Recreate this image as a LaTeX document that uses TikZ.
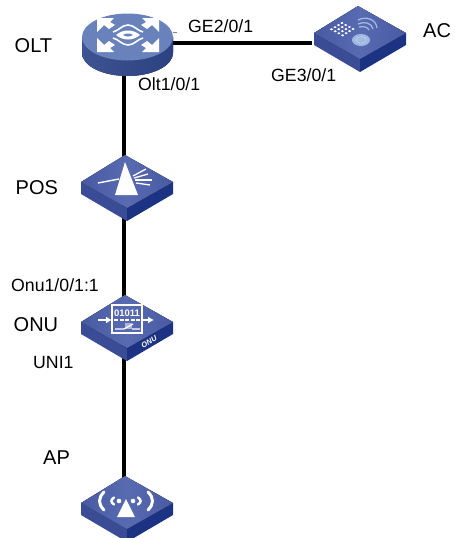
\documentclass[tikz,border=0pt]{standalone}
\usepackage{fontspec}
\setmainfont{Liberation Sans}
\usepackage{xcolor}
\usetikzlibrary{positioning, arrows.meta, calc}
\definecolor{slabtop}{RGB}{72, 90, 162}
\definecolor{slabglow}{RGB}{88, 106, 176}
\definecolor{slableft}{RGB}{58, 76, 150}
\definecolor{slabright}{RGB}{28, 50, 130}
\definecolor{olttop}{RGB}{106, 130, 188}
\definecolor{oltside}{RGB}{62, 84, 146}
\definecolor{oltdark}{RGB}{44, 66, 128}
\definecolor{waveblue}{RGB}{160, 185, 225}
\tikzset{
    lbl/.style={inner sep=0pt, anchor=base west, font=\fontsize{20}{20}\selectfont},
    portlbl/.style={lbl, font=\fontsize{17.7}{17.7}\selectfont},
    port/.style={inner sep=0pt, minimum size=1pt},
    link/.style={line width=3.2pt, black},
    icon/.style={white, line cap=round},
    slab/.pic={
        \fill[slableft] (-44,0) -- (2,26) -- (2,39) -- (-44,12) -- cycle;
        \fill[slabright] (2,26) -- (48,0) -- (48,12) -- (2,39) -- cycle;
        \fill[left color=slabtop, right color=slabtop, middle color=slabglow] (0,-27) -- (48,0) -- (2,26) -- (-44,0) -- cycle;
    }
}
\begin{document}
\begin{tikzpicture}[x=1pt, y=-1pt]
        \useasboundingbox (0,0) rectangle (455,538);

        \node[port] (olt) at (124,43) {};
        \node[port] (ac) at (313,43) {};
        \node[port] (pos) at (124,182) {};
        \node[port] (onu) at (124,322) {};
        \node[port] (ap) at (124,503) {};

        \draw[link] (olt) -- (ac);
        \draw[link] (olt) -- (pos);
        \draw[link] (pos) -- (onu);
        \draw[link] (onu) -- (ap);

        % OLT
        \fill[left color=oltside, right color=oltdark] (82,37) -- (82,53) arc[start angle=180, end angle=0, x radius=45.5, y radius=23] -- (173,37) -- cycle;
        \fill[olttop] (127.5,37) ellipse[x radius=45.5, y radius=23.5];
        \foreach \sx/\sy in {-1/-1, 1/-1, -1/1, 1/1} {
            \fill[white, shift={(128,35)}, xscale=\sx, yscale=\sy] (31,17) -- (14,17) -- (18,13) -- (13,10) -- (19,6) -- (24,10) -- (31,3) -- cycle;
            \draw[white, line width=1.6pt, shift={(128,35)}, xscale=\sx, yscale=\sy] (15,3) .. controls (10,4) and (6,10) .. (0,10);
        }
        \fill[white, shift={(128,35)}] (-12,0) .. controls (-5,-6) and (5,-6) .. (12,0) .. controls (5,6) and (-5,6) .. (-12,0) -- cycle;
        \fill[olttop, shift={(128,35)}] (-5,0) .. controls (-2,-2) and (2,-2) .. (5,0) .. controls (2,2) and (-2,2) .. (-5,0) -- cycle;
        \draw[gray, line width=0.5pt] (173,32) -- (177,32);

        % AC
        \pic at (358,33) {slab};
        \foreach \i in {0,...,3} {
            \foreach \j in {0,...,3} {
                \fill[white] ($(342,23)+\i*(3.7,2)+\j*(-3.5,2.1)$) ellipse[x radius=1.6, y radius=1.1];
            }
        }
        \fill[waveblue] (361,40) ellipse[x radius=9, y radius=6];
        \draw[white, densely dotted, line width=0.5pt] (361,40) ellipse[x radius=5, y radius=3.3];
        \draw[waveblue, line width=1.3pt] (358,20) .. controls (366,16) and (376,19) .. (377,28);
        \draw[waveblue, line width=1.3pt] (358,24) .. controls (364,21) and (372,23) .. (373,29);
        \draw[waveblue, line width=1.3pt] (359,27) .. controls (363,26) and (368,27) .. (369,30);

        % POS
        \pic at (125,182) {slab};
        \fill[white] (125,162) -- (138,195) -- (115,195) -- cycle;
        \draw[white, line width=1.4pt] (98,183) -- (119,179);
        \draw[white, line width=1.3pt] (133,176) -- (146,169);
        \draw[white, line width=1.3pt] (134,178) -- (148,174);
        \draw[white, line width=1.3pt] (135,180) -- (152,180);
        \draw[white, line width=1.3pt] (136,183) -- (150,185);

        % ONU
        \pic at (125,322) {slab};
        \draw[white, line width=1.2pt] (112,305) rectangle (142,333);
        \node[inner sep=0pt, white, font=\bfseries\fontsize{9.5}{9.5}\selectfont] (onubits) at (127,313) {01011};
        \draw[white, line width=1.2pt, dash pattern=on 4pt off 1.5pt] (114,320) -- (141,320);
        \fill[slabglow!50!white] (125,323) rectangle (132,329);
        \draw[white, line width=1.2pt] (115,329) -- (124,329) -- (133,324) (132,329) -- (140,329);
        \draw[-{Latex[length=6pt,width=7pt]}, white, line width=1.8pt] (98,320) -- (112,320);
        \draw[-{Latex[length=6pt,width=7pt]}, white, line width=1.8pt] (142,320) -- (154,320);
        \node[inner sep=0pt, white, rotate=30, font=\bfseries\itshape\fontsize{7.5}{7.5}\selectfont] (onutag) at (149,342) {ONU};

        % AP
        \pic at (125,503) {slab};
        \fill[white] (126,499) -- (135,517) -- (117,517) -- cycle;
        \foreach \sx in {-1,1} {
            \fill[white, shift={(126,501)}, xscale=\sx] (7,0) circle[radius=2.3];
            \draw[icon, line width=2.4pt, shift={(126,501)}, xscale=\sx] (12,-3.5) .. controls (15.5,-1) and (15.5,1) .. (12,3.5);
            \draw[icon, line width=3pt, shift={(126,501)}, xscale=\sx] (22,-9) .. controls (28,-3) and (28,3) .. (22,9);
        }

        \node[lbl] (lblolt) at (14.5,52) {OLT};
        \node[lbl] (lblac) at (423,37) {AC};
        \node[portlbl] (lblgetwo) at (188,32) {GE2/0/1};
        \node[portlbl] (lblgethree) at (271,81.5) {GE3/0/1};
        \node[portlbl] (lblport) at (138,90) {Olt1/0/1};
        \node[lbl] (lblpos) at (15.5,194) {POS};
        \node[portlbl] (lblonuport) at (11,291) {Onu1/0/1:1};
        \node[lbl] (lblonu) at (13.5,331) {ONU};
        \node[portlbl] (lbluni) at (33,368) {UNI1};
        \node[lbl] (lblap) at (43,464) {AP};
    \end{tikzpicture}
\end{document}
